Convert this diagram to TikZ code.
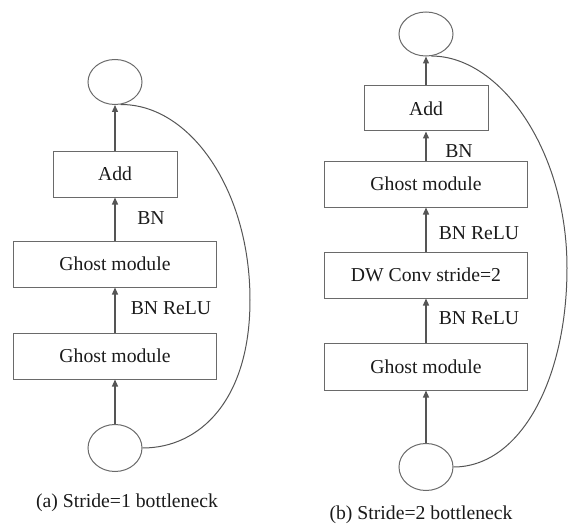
\documentclass[tikz,border=0pt]{standalone}
\usepackage{fontspec}
\setmainfont{Liberation Serif}
\usetikzlibrary{shapes.geometric,arrows.meta}
\definecolor{linegray}{HTML}{555555}
\definecolor{boxgray}{HTML}{6A6A6A}
\definecolor{txt}{HTML}{1A1A1A}
\tikzset{
  every node/.style={font=\fontsize{19.7}{22}\selectfont, text=txt},
  blockbox/.style={draw=boxgray, line width=1pt, rectangle, inner sep=0pt, minimum height=46pt},
  widebox/.style={blockbox, minimum width=203pt},
  addbox/.style={blockbox, minimum width=124pt},
  io/.style={draw=boxgray, line width=1pt, ellipse, inner sep=0pt, minimum width=54pt, minimum height=45pt},
  flow/.style={draw=linegray, line width=1.3pt, -{Triangle[length=7pt,width=6pt]}},
  skip/.style={draw=linegray, line width=1pt},
  lbl/.style={inner sep=0pt, anchor=center}
}
\begin{document}
\begin{tikzpicture}[x=1pt,y=-1pt]
\useasboundingbox (0,0) rectangle (571,527);
% ---------- (a) ----------
\node[io] (atop) at (115,82) {};
\node[addbox] (aadd) at (115,174) {Add};
\node[widebox] (ag1) at (115,264) {Ghost module};
\node[widebox] (ag2) at (115,356) {Ghost module};
\node[io, minimum height=47pt] (abot) at (115,448) {};
\node[lbl] (abn) at (151,218) {BN};
\node[lbl] (abnr) at (171,308) {BN ReLU};
\node[lbl] (acap) at (127,503) {(a) Stride=1 bottleneck};
\draw[flow] (abot.north) -- (ag2.south);
\draw[flow] (ag2.north) -- (ag1.south);
\draw[flow] (ag1.north) -- (aadd.south);
\draw[flow] (aadd.north) -- (atop.south);
\coordinate (amid) at (250,300);
\draw[skip] (atop.-76) .. controls (190,104) and (250,190) .. (amid)
  .. controls (250,400) and (200,448) .. (abot.east);
% ---------- (b) ----------
\node[io, minimum height=44pt] (btop) at (426,34) {};
\node[addbox, minimum height=45pt] (badd) at (426,108.5) {Add};
\node[widebox] (bg1) at (426,184) {Ghost module};
\node[widebox] (bdw) at (426,275) {DW Conv stride=2};
\node[widebox, minimum height=47pt] (bg2) at (426,366.5) {Ghost module};
\node[io, minimum height=47pt] (bbot) at (426,467) {};
\node[lbl] (bbn) at (459,151) {BN};
\node[lbl] (bbnr1) at (479,233) {BN ReLU};
\node[lbl] (bbnr2) at (479,318) {BN ReLU};
\node[lbl] (bcap) at (421,515) {(b) Stride=2 bottleneck};
\draw[flow] (bbot.north) -- (bg2.south);
\draw[flow] (bg2.north) -- (bdw.south);
\draw[flow] (bdw.north) -- (bg1.south);
\draw[flow] (bg1.north) -- (badd.south);
\draw[flow] (badd.north) -- (btop.south);
\coordinate (bmid) at (567,268);
\draw[skip] (btop.-76) .. controls (500,56) and (567,150) .. (bmid)
  .. controls (567,380) and (520,467) .. (bbot.east);
\end{tikzpicture}
\end{document}
